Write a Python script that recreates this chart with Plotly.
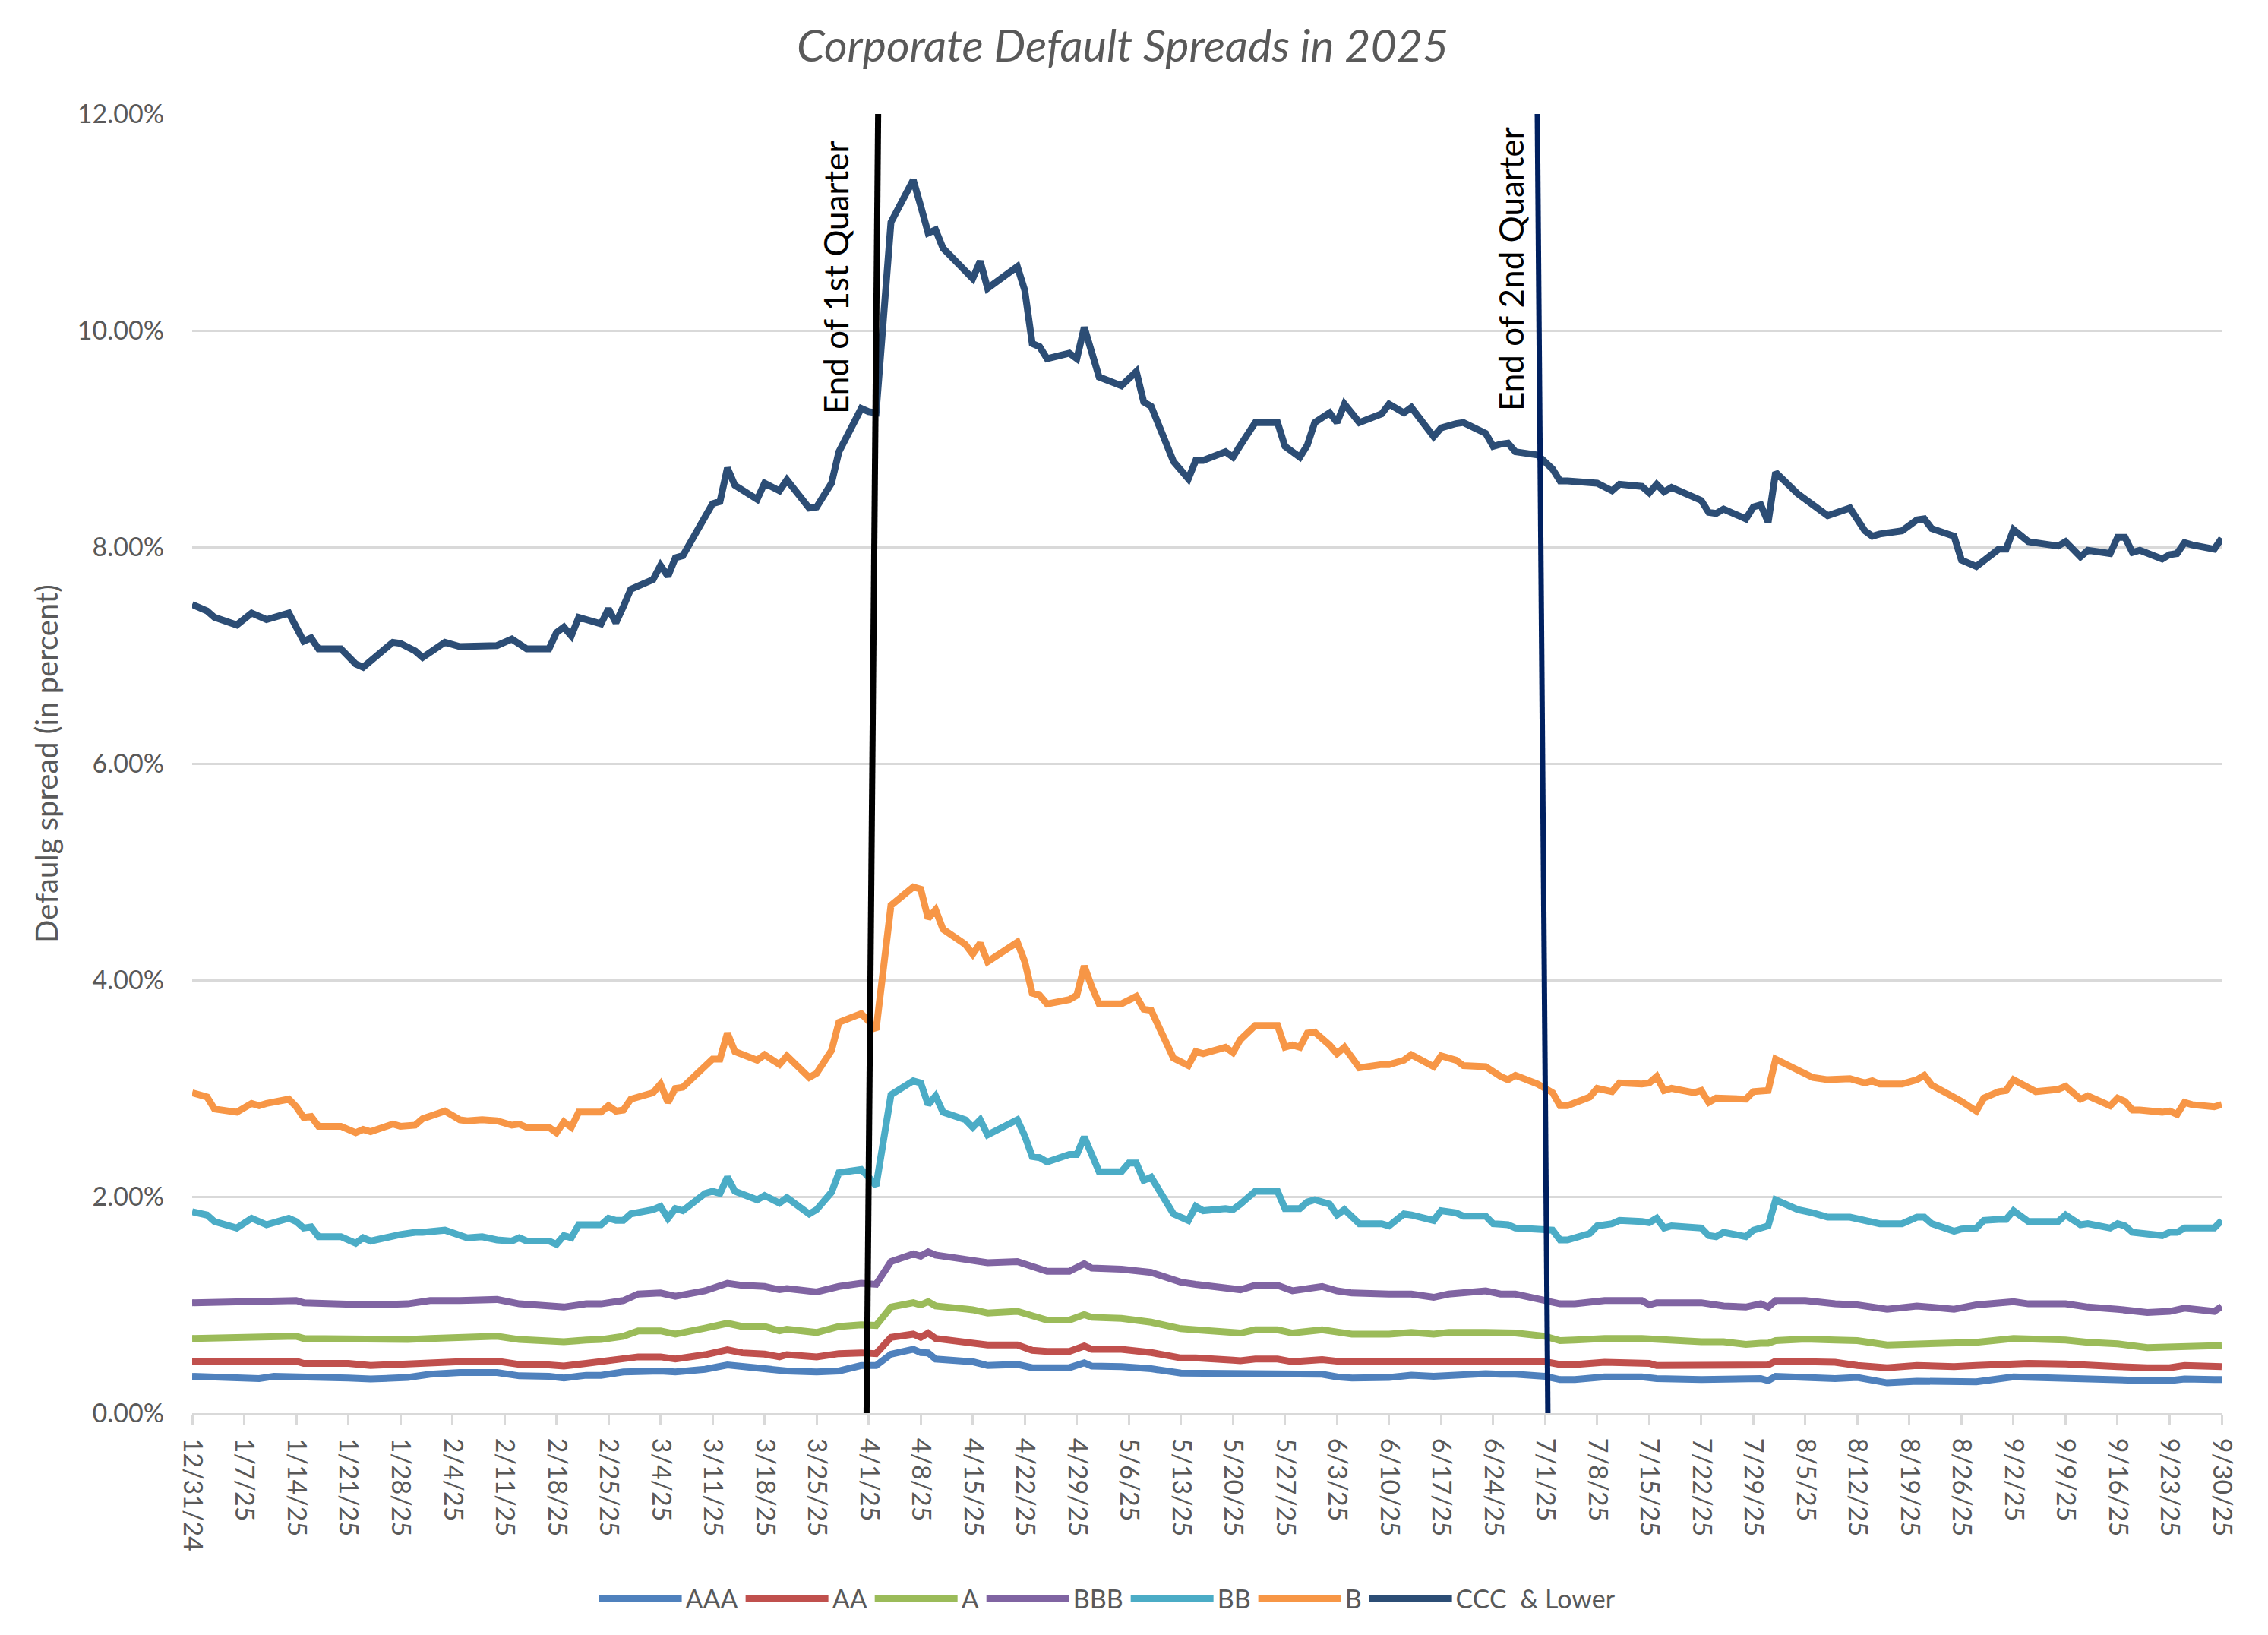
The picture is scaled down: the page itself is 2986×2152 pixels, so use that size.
import plotly.graph_objects as go

# ---------------- data (values in percent) ----------------
hy_dates = [
    "2024-12-31", "2025-01-02", "2025-01-03", "2025-01-06", "2025-01-08", "2025-01-09", "2025-01-10", "2025-01-13", "2025-01-14", "2025-01-15", "2025-01-16", "2025-01-17", "2025-01-20", "2025-01-22", "2025-01-23", "2025-01-24", "2025-01-27", "2025-01-28", "2025-01-30", "2025-01-31",
    "2025-02-03", "2025-02-05", "2025-02-06", "2025-02-08", "2025-02-10", "2025-02-12", "2025-02-13", "2025-02-14", "2025-02-17", "2025-02-18", "2025-02-19", "2025-02-20", "2025-02-21", "2025-02-24", "2025-02-25", "2025-02-26", "2025-02-27", "2025-02-28",
    "2025-03-03", "2025-03-04", "2025-03-05", "2025-03-06", "2025-03-07", "2025-03-10", "2025-03-11", "2025-03-12", "2025-03-13", "2025-03-14", "2025-03-17", "2025-03-18", "2025-03-20", "2025-03-21", "2025-03-24", "2025-03-25", "2025-03-27", "2025-03-28", "2025-03-31",
    "2025-04-01", "2025-04-02", "2025-04-04", "2025-04-07", "2025-04-08", "2025-04-09", "2025-04-10", "2025-04-11", "2025-04-14", "2025-04-15", "2025-04-16", "2025-04-17", "2025-04-21", "2025-04-22", "2025-04-23", "2025-04-24", "2025-04-25", "2025-04-28", "2025-04-29", "2025-04-30",
    "2025-05-01", "2025-05-02", "2025-05-05", "2025-05-06", "2025-05-07", "2025-05-08", "2025-05-09", "2025-05-12", "2025-05-14", "2025-05-15", "2025-05-16", "2025-05-19", "2025-05-20", "2025-05-21", "2025-05-23", "2025-05-26", "2025-05-27", "2025-05-28", "2025-05-29", "2025-05-30", "2025-05-31",
    "2025-06-02", "2025-06-03", "2025-06-04", "2025-06-06", "2025-06-09", "2025-06-10", "2025-06-12", "2025-06-13", "2025-06-16", "2025-06-17", "2025-06-19", "2025-06-20", "2025-06-23", "2025-06-24", "2025-06-25", "2025-06-26", "2025-06-27", "2025-06-30",
    "2025-07-02", "2025-07-03", "2025-07-04", "2025-07-07", "2025-07-08", "2025-07-10", "2025-07-11", "2025-07-14", "2025-07-15", "2025-07-16", "2025-07-17", "2025-07-18", "2025-07-21", "2025-07-22", "2025-07-23", "2025-07-24", "2025-07-25", "2025-07-26", "2025-07-28", "2025-07-29", "2025-07-30", "2025-07-31",
    "2025-08-01", "2025-08-04", "2025-08-06", "2025-08-08", "2025-08-11", "2025-08-13", "2025-08-14", "2025-08-15", "2025-08-18", "2025-08-20", "2025-08-21", "2025-08-22", "2025-08-25", "2025-08-26", "2025-08-28", "2025-08-29", "2025-08-31",
    "2025-09-01", "2025-09-02", "2025-09-04", "2025-09-05", "2025-09-08", "2025-09-09", "2025-09-11", "2025-09-12", "2025-09-15", "2025-09-16", "2025-09-17", "2025-09-18", "2025-09-19", "2025-09-22", "2025-09-23", "2025-09-24", "2025-09-25", "2025-09-26", "2025-09-29", "2025-09-30",
]

ccc = [
    7.47, 7.41, 7.35, 7.28, 7.39, 7.36, 7.33, 7.39, 7.26, 7.13, 7.16, 7.06, 7.06, 6.92, 6.89, 6.95, 7.12, 7.11, 7.04, 6.98,
    7.12, 7.08, 7.08, 7.08, 7.09, 7.15, 7.10, 7.06, 7.06, 7.21, 7.26, 7.18, 7.35, 7.29, 7.43, 7.30, 7.45, 7.61,
    7.70, 7.83, 7.73, 7.90, 7.92, 8.28, 8.40, 8.42, 8.73, 8.57, 8.44, 8.59, 8.52, 8.62, 8.36, 8.37, 8.59, 8.88, 9.28,
    9.25, 9.24, 11.00, 11.39, 11.15, 10.90, 10.93, 10.76, 10.55, 10.48, 10.64, 10.39, 10.59, 10.37, 9.88, 9.85, 9.74, 9.79, 9.74, 10.03,
    9.80, 9.57, 9.49, 9.55, 9.62, 9.34, 9.30, 8.79, 8.63, 8.80, 8.80, 8.88, 8.83, 8.94, 9.15, 9.15, 8.93, 8.88, 8.83, 8.94, 9.15,
    9.24, 9.15, 9.32, 9.15, 9.23, 9.32, 9.24, 9.29, 9.02, 9.10, 9.14, 9.15, 9.05, 8.93, 8.95, 8.96, 8.88, 8.85,
    8.72, 8.61, 8.61, 8.60, 8.59, 8.52, 8.58, 8.56, 8.50, 8.58, 8.51, 8.55, 8.46, 8.43, 8.32, 8.31, 8.35, 8.32, 8.26, 8.37, 8.39, 8.23,
    8.69, 8.49, 8.39, 8.29, 8.36, 8.15, 8.10, 8.12, 8.15, 8.25, 8.26, 8.17, 8.10, 7.88, 7.82, 7.87, 7.98,
    7.98, 8.16, 8.05, 8.04, 8.01, 8.05, 7.91, 7.97, 7.94, 8.09, 8.09, 7.95, 7.97, 7.89, 7.93, 7.94, 8.04, 8.02, 7.98, 8.08,
]

b_rating = [
    2.96, 2.92, 2.81, 2.78, 2.86, 2.84, 2.86, 2.90, 2.83, 2.73, 2.74, 2.65, 2.65, 2.59, 2.62, 2.60, 2.67, 2.65, 2.66, 2.72,
    2.79, 2.71, 2.70, 2.71, 2.70, 2.66, 2.67, 2.64, 2.64, 2.59, 2.69, 2.64, 2.78, 2.78, 2.84, 2.79, 2.80, 2.90,
    2.96, 3.04, 2.87, 3.00, 3.01, 3.21, 3.27, 3.27, 3.51, 3.34, 3.26, 3.31, 3.22, 3.30, 3.10, 3.14, 3.35, 3.61, 3.69,
    3.62, 3.54, 4.69, 4.86, 4.84, 4.57, 4.65, 4.47, 4.33, 4.24, 4.34, 4.17, 4.35, 4.17, 3.88, 3.86, 3.78, 3.82, 3.86, 4.13,
    3.94, 3.78, 3.78, 3.81, 3.85, 3.73, 3.72, 3.28, 3.21, 3.34, 3.32, 3.38, 3.33, 3.45, 3.58, 3.58, 3.38, 3.40, 3.38, 3.51, 3.52,
    3.40, 3.32, 3.38, 3.19, 3.22, 3.22, 3.26, 3.31, 3.20, 3.30, 3.26, 3.21, 3.20, 3.15, 3.11, 3.08, 3.12, 3.04,
    2.96, 2.84, 2.84, 2.92, 3.00, 2.97, 3.05, 3.04, 3.05, 3.11, 2.98, 3.00, 2.96, 2.98, 2.87, 2.91, 2.91, 2.91, 2.90, 2.97, 2.98, 2.98,
    3.27, 3.17, 3.10, 3.08, 3.09, 3.05, 3.07, 3.04, 3.04, 3.08, 3.12, 3.03, 2.93, 2.88, 2.79, 2.91, 2.97,
    2.98, 3.08, 3.00, 2.97, 2.99, 3.02, 2.90, 2.93, 2.84, 2.91, 2.88, 2.80, 2.80, 2.78, 2.79, 2.76, 2.87, 2.85, 2.83, 2.85,
]

bb_rating = [
    1.86, 1.83, 1.77, 1.71, 1.80, 1.77, 1.74, 1.80, 1.77, 1.71, 1.72, 1.63, 1.63, 1.57, 1.62, 1.59, 1.64, 1.65, 1.67, 1.67,
    1.69, 1.65, 1.62, 1.63, 1.60, 1.59, 1.62, 1.59, 1.59, 1.56, 1.64, 1.62, 1.74, 1.74, 1.80, 1.78, 1.78, 1.84,
    1.88, 1.91, 1.80, 1.89, 1.87, 2.03, 2.05, 2.03, 2.18, 2.05, 1.97, 2.01, 1.94, 1.99, 1.84, 1.88, 2.04, 2.22, 2.25,
    2.18, 2.10, 2.94, 3.07, 3.05, 2.85, 2.93, 2.78, 2.71, 2.64, 2.71, 2.57, 2.71, 2.56, 2.37, 2.36, 2.32, 2.39, 2.39, 2.55,
    2.39, 2.23, 2.23, 2.31, 2.31, 2.15, 2.18, 1.84, 1.78, 1.91, 1.87, 1.89, 1.88, 1.93, 2.05, 2.05, 1.89, 1.89, 1.89, 1.95, 1.97,
    1.93, 1.83, 1.88, 1.75, 1.75, 1.73, 1.84, 1.83, 1.78, 1.87, 1.85, 1.82, 1.82, 1.75, 1.745, 1.74, 1.71, 1.69,
    1.69, 1.60, 1.60, 1.66, 1.73, 1.75, 1.78, 1.77, 1.76, 1.80, 1.71, 1.73, 1.72, 1.71, 1.64, 1.63, 1.67, 1.66, 1.63, 1.69, 1.71, 1.73,
    1.97, 1.88, 1.85, 1.81, 1.81, 1.78, 1.78, 1.75, 1.75, 1.81, 1.81, 1.75, 1.68, 1.70, 1.71, 1.78, 1.79,
    1.79, 1.87, 1.77, 1.77, 1.77, 1.83, 1.74, 1.75, 1.71, 1.75, 1.73, 1.67, 1.66, 1.64, 1.67, 1.67, 1.71, 1.71, 1.71, 1.78,
]

ig_dates = [
    "2024-12-31", "2025-01-08", "2025-01-09", "2025-01-11", "2025-01-14", "2025-01-15", "2025-01-21", "2025-01-24", "2025-01-29",
    "2025-02-01", "2025-02-05", "2025-02-10", "2025-02-13", "2025-02-17", "2025-02-19", "2025-02-22", "2025-02-24", "2025-02-27",
    "2025-03-01", "2025-03-04", "2025-03-06", "2025-03-10", "2025-03-13", "2025-03-15", "2025-03-18", "2025-03-20", "2025-03-21", "2025-03-25", "2025-03-28", "2025-03-31",
    "2025-04-02", "2025-04-04", "2025-04-07", "2025-04-08", "2025-04-09", "2025-04-10", "2025-04-15", "2025-04-17", "2025-04-21", "2025-04-23", "2025-04-25", "2025-04-28", "2025-04-30",
    "2025-05-01", "2025-05-05", "2025-05-09", "2025-05-13", "2025-05-15", "2025-05-20", "2025-05-21", "2025-05-23", "2025-05-26", "2025-05-28",
    "2025-06-01", "2025-06-03", "2025-06-05", "2025-06-10", "2025-06-13", "2025-06-16", "2025-06-18", "2025-06-23", "2025-06-25", "2025-06-27",
    "2025-07-01", "2025-07-03", "2025-07-05", "2025-07-09", "2025-07-14", "2025-07-15", "2025-07-16", "2025-07-22", "2025-07-25", "2025-07-28", "2025-07-30", "2025-07-31",
    "2025-08-01", "2025-08-05", "2025-08-09", "2025-08-12", "2025-08-16", "2025-08-20", "2025-08-25", "2025-08-28",
    "2025-09-02", "2025-09-04", "2025-09-09", "2025-09-12", "2025-09-16", "2025-09-20", "2025-09-23", "2025-09-25", "2025-09-29", "2025-09-30",
]

aaa = [
    0.34, 0.335, 0.32, 0.34, 0.34, 0.325, 0.325, 0.315, 0.33,
    0.36, 0.375, 0.375, 0.345, 0.34, 0.325, 0.35, 0.35, 0.38,
    0.39, 0.39, 0.38, 0.405, 0.445, 0.43, 0.41, 0.39, 0.39, 0.38, 0.39, 0.44,
    0.44, 0.545, 0.59, 0.56, 0.557, 0.50, 0.475, 0.44, 0.45, 0.42, 0.42, 0.42, 0.465,
    0.435, 0.43, 0.41, 0.37, 0.37, 0.36, 0.36, 0.365, 0.365, 0.365,
    0.36, 0.335, 0.325, 0.33, 0.35, 0.34, 0.35, 0.365, 0.36, 0.36,
    0.34, 0.31, 0.31, 0.335, 0.335, 0.33, 0.32, 0.31, 0.31, 0.31, 0.32, 0.30,
    0.34, 0.33, 0.32, 0.33, 0.28, 0.295, 0.285, 0.29,
    0.335, 0.33, 0.33, 0.31, 0.30, 0.30, 0.30, 0.315, 0.31, 0.31,
]

aa = [
    0.48, 0.48, 0.48, 0.48, 0.48, 0.46, 0.46, 0.44, 0.46,
    0.465, 0.475, 0.48, 0.45, 0.445, 0.435, 0.46, 0.475, 0.50,
    0.52, 0.52, 0.50, 0.54, 0.585, 0.557, 0.545, 0.52, 0.54, 0.52, 0.55, 0.557,
    0.55, 0.70, 0.73, 0.70, 0.74, 0.69, 0.65, 0.63, 0.63, 0.58, 0.57, 0.57, 0.62,
    0.59, 0.59, 0.56, 0.51, 0.51, 0.49, 0.485, 0.50, 0.50, 0.475,
    0.495, 0.48, 0.475, 0.475, 0.48, 0.48, 0.49, 0.49, 0.49, 0.485,
    0.475, 0.45, 0.45, 0.47, 0.47, 0.46, 0.44, 0.445, 0.44, 0.44, 0.44, 0.445,
    0.48, 0.48, 0.47, 0.44, 0.42, 0.44, 0.43, 0.44,
    0.465, 0.46, 0.455, 0.45, 0.43, 0.42, 0.42, 0.44, 0.43, 0.43,
]

a_rating = [
    0.69, 0.70, 0.70, 0.70, 0.71, 0.69, 0.68, 0.675, 0.68,
    0.69, 0.70, 0.71, 0.68, 0.675, 0.66, 0.675, 0.68, 0.71,
    0.76, 0.76, 0.73, 0.785, 0.83, 0.80, 0.80, 0.76, 0.775, 0.745, 0.80, 0.815,
    0.81, 0.98, 1.02, 1.00, 1.03, 0.99, 0.955, 0.925, 0.94, 0.90, 0.86, 0.86, 0.91,
    0.885, 0.875, 0.84, 0.78, 0.77, 0.75, 0.74, 0.77, 0.77, 0.74,
    0.77, 0.75, 0.73, 0.73, 0.745, 0.73, 0.745, 0.745, 0.74, 0.74,
    0.71, 0.67, 0.675, 0.69, 0.69, 0.685, 0.68, 0.66, 0.66, 0.635, 0.645, 0.645,
    0.67, 0.685, 0.675, 0.67, 0.63, 0.64, 0.64, 0.655,
    0.69, 0.69, 0.675, 0.655, 0.64, 0.605, 0.61, 0.625, 0.625, 0.625,
]

bbb = [
    1.02, 1.03, 1.03, 1.03, 1.04, 1.02, 1.00, 1.00, 1.01,
    1.04, 1.04, 1.05, 1.01, 1.00, 0.98, 1.01, 1.01, 1.04,
    1.10, 1.11, 1.08, 1.13, 1.20, 1.18, 1.17, 1.14, 1.15, 1.12, 1.17, 1.20,
    1.19, 1.40, 1.47, 1.45, 1.49, 1.46, 1.42, 1.39, 1.40, 1.35, 1.31, 1.31, 1.38,
    1.34, 1.33, 1.30, 1.21, 1.19, 1.155, 1.14, 1.18, 1.18, 1.13,
    1.17, 1.13, 1.11, 1.10, 1.10, 1.07, 1.10, 1.13, 1.10, 1.10,
    1.05, 1.01, 1.01, 1.04, 1.04, 1.00, 1.02, 1.02, 0.99, 0.98, 1.01, 0.98,
    1.04, 1.04, 1.01, 1.00, 0.96, 0.99, 0.96, 1.00,
    1.03, 1.01, 1.01, 0.98, 0.96, 0.93, 0.94, 0.97, 0.94, 0.985,
]

series_names = ["AAA", "AA", "A", "BBB", "BB", "B", "CCC\u00a0 & Lower"]
series_colors = ["#4F81BD", "#C0504D", "#9BBB59", "#8064A2", "#4BACC6", "#F79646", "#2C4D75"]

assert len(hy_dates) == len(ccc) == len(b_rating) == len(bb_rating)
assert len(ig_dates) == len(aaa) == len(aa) == len(a_rating) == len(bbb)

series = [
    (ig_dates, aaa), (ig_dates, aa), (ig_dates, a_rating), (ig_dates, bbb),
    (hy_dates, bb_rating), (hy_dates, b_rating), (hy_dates, ccc),
]

# ---------------- figure ----------------
W, H = 2986, 2152
GREY = "#595959"
GRID = "#D9D9D9"

fig = go.Figure()
for (xs, ys), name, color in zip(series, series_names, series_colors):
    fig.add_trace(go.Scatter(
        x=xs, y=ys, name=name, mode="lines",
        line=dict(color=color, width=9),
        hovertemplate="%{x|%-m/%-d/%y}: %{y:.2f}%<extra>" + name + "</extra>",
    ))

fig.update_layout(
    width=W, height=H,
    margin=dict(l=253, r=61, t=150, b=292, autoexpand=False),
    paper_bgcolor="white", plot_bgcolor="white",
    font=dict(family="Lato", size=34, color=GREY),
    title=dict(
        text="Corporate Default Spreads in 2025",
        x=0.495, xanchor="center", xref="container",
        y=1 - 60 / H, yanchor="middle", yref="container",
        font=dict(family="Lato", size=59, style="italic", color=GREY),
    ),
    showlegend=True,
    legend=dict(
        orientation="h", x=0.451, xanchor="center", y=-0.1427, yanchor="middle",
        font=dict(family="Lato", size=34, color=GREY), bgcolor="rgba(0,0,0,0)",
        traceorder="normal", itemwidth=109,
    ),
    xaxis=dict(
        type="date", range=["2024-12-31", "2025-09-30"],
        tick0="2024-12-31", dtick=7 * 86400000, tickformat="%-m/%-d/%y",
        tickangle=90, showgrid=False, zeroline=False,
        showline=True, linecolor=GRID, linewidth=3,
        ticks="outside", ticklen=13, tickwidth=3, tickcolor=GRID,
        tickfont=dict(family="Lato", size=34, color=GREY),
        ticklabelstandoff=10,
    ),
    yaxis=dict(
        range=[0, 12], dtick=2, tick0=0, tickformat=".2f", ticksuffix="%",
        showgrid=True, gridcolor=GRID, gridwidth=3, zeroline=False, showline=False,
        ticks="", tickfont=dict(family="Lato", size=34, color=GREY),
        ticklabelstandoff=36,
        title=dict(text="Defaulg spread (in percent)", standoff=12,
                   font=dict(family="Lato", size=40, color=GREY)),
    ),
    shapes=[
        dict(type="line", xref="paper", yref="y", x0=0.3323, y0=0, x1=0.3380, y1=12,
             line=dict(color="#000000", width=8), layer="above"),
        dict(type="line", xref="paper", yref="y", x0=0.6680, y0=0, x1=0.6628, y1=12,
             line=dict(color="#002060", width=7), layer="above"),
    ],
    annotations=[
        dict(text="End of 1st Quarter", xref="paper", yref="paper", x=0.3170, y=0.8737,
             textangle=-90, showarrow=False, xanchor="center", yanchor="middle",
             font=dict(family="Lato", size=44, color="#000000")),
        dict(text="End of 2nd Quarter", xref="paper", yref="paper", x=0.6497, y=0.8807,
             textangle=-90, showarrow=False, xanchor="center", yanchor="middle",
             font=dict(family="Lato", size=44, color="#000000")),
    ],
)

fig.write_html(
    "out.html",
    config={"displayModeBar": False},
    post_script="document.body.style.margin='0';document.body.style.overflow='hidden';",
)
